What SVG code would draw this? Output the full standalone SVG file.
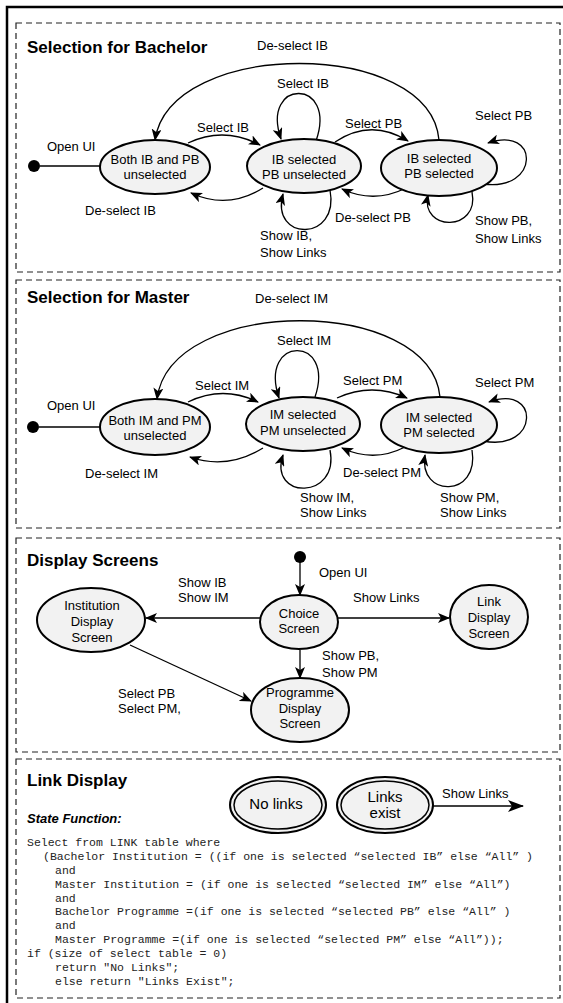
<svg xmlns="http://www.w3.org/2000/svg" width="563" height="1003" viewBox="0 0 563 1003">
<style>
.panel{fill:none;stroke:#222;stroke-width:1.2;stroke-dasharray:6 4}
.st{fill:#f2f2f2;stroke:#000;stroke-width:2}
.st2{fill:none;stroke:#000;stroke-width:1.5}
.t{font-family:"Liberation Sans",Arial,sans-serif;font-size:13px;fill:#000}
.c{text-anchor:middle}
.h{font-family:"Liberation Sans",Arial,sans-serif;font-size:17px;font-weight:bold;fill:#000}
.sf{font-family:"Liberation Sans",Arial,sans-serif;font-size:13px;font-weight:bold;font-style:italic;fill:#000}
.e{fill:none;stroke:#000;stroke-width:1.3;marker-end:url(#arr)}
.ln{fill:none;stroke:#000;stroke-width:1.3}
.code{font-family:"Liberation Mono","Courier New",monospace;font-size:11.5px;fill:#222}
</style>
<defs>
<marker id="arr" markerUnits="userSpaceOnUse" markerWidth="12" markerHeight="10" refX="11" refY="5" orient="auto">
<path d="M0,0 L12,5 L0,10 L3,5 z" fill="#000"/>
</marker>
<marker id="arrBig" markerUnits="userSpaceOnUse" markerWidth="16" markerHeight="12" refX="15" refY="6" orient="auto">
<path d="M0,0 L16,6 L0,12 L4,6 z" fill="#000"/>
</marker>
</defs>
<rect width="563" height="1003" fill="#fff"/>
<path d="M7,1003 L7,7 L563,7" fill="none" stroke="#000" stroke-width="2.5"/>

<g id="panels">
<rect class="panel" x="16" y="23" width="544" height="249"/>
<rect class="panel" x="16" y="280" width="544" height="248"/>
<rect class="panel" x="16" y="538" width="544" height="214"/>
<rect class="panel" x="16" y="759" width="544" height="239"/>
</g>

<g id="titles">
<text class="h" x="27" y="53">Selection for Bachelor</text>
<text class="h" x="27" y="303">Selection for Master</text>
<text class="h" x="27" y="566">Display Screens</text>
<text class="h" x="27" y="786">Link Display</text>
</g>

<g id="connectors">
<!-- Panel 1 -->
<line class="ln" x1="40" y1="166" x2="101" y2="166"/>
<path class="e" d="M188,143 Q224,126 260,145"/>
<path class="e" d="M263,188 Q228,210 191,193"/>
<path class="e" d="M439,140 C430,38 170,38 155,140"/>
<path class="e" d="M316,141 C338,78 260,78 281,139"/>
<path class="e" d="M335,142 Q371,118 408,141"/>
<path class="e" d="M406,188 Q374,204 342,189"/>
<path class="e" d="M330,190 C340,242 270,242 283,194"/>
<path class="e" d="M483,184 C540,192 540,125 488,143"/>
<path class="e" d="M472,192 C480,232 420,232 428,195"/>
<!-- Panel 2 -->
<line class="ln" x1="39" y1="427" x2="101" y2="427"/>
<path class="e" d="M188,402 Q223,385 258,402"/>
<path class="e" d="M263,448 Q227,470 190,457"/>
<path class="e" d="M440,397 C430,295 170,295 157,399"/>
<path class="e" d="M315,397 C336,335 258,335 279,398"/>
<path class="e" d="M337,398 Q372,382 407,398"/>
<path class="e" d="M405,447 Q374,463 342,448"/>
<path class="e" d="M330,450 C340,500 268,500 283,455"/>
<path class="e" d="M483,441 C540,452 540,383 489,402"/>
<path class="e" d="M472,450 C480,498 418,498 425,455"/>
<!-- Panel 3 -->
<path class="e" d="M300,562 L300,595"/>
<path class="e" d="M260,618 L146,618"/>
<path class="e" d="M338,618 L449,618"/>
<path class="e" d="M300,650 L300,678"/>
<path class="e" d="M130,645 L251,701"/>
<!-- Panel 4 -->
<path d="M433,806 L523,806" fill="none" stroke="#000" stroke-width="1.5" marker-end="url(#arrBig)"/>
</g>

<g id="p1-start"><circle cx="34" cy="166" r="6" fill="#000"/></g>
<g id="p1-A">
<ellipse class="st" cx="155" cy="167" rx="55" ry="27"/>
<text class="t c" x="155" y="164">Both IB and PB</text>
<text class="t c" x="155" y="179">unselected</text>
</g>
<g id="p1-B">
<ellipse class="st" cx="304" cy="166" rx="57" ry="27"/>
<text class="t c" x="304" y="164">IB selected</text>
<text class="t c" x="304" y="179">PB unselected</text>
</g>
<g id="p1-C">
<ellipse class="st" cx="439" cy="168" rx="58" ry="28"/>
<text class="t c" x="439" y="163">IB selected</text>
<text class="t c" x="439" y="178">PB selected</text>
</g>
<g id="p1-labels">
<text class="t" x="47" y="151">Open UI</text>
<text class="t" x="197" y="132">Select IB</text>
<text class="t" x="85" y="215">De-select IB</text>
<text class="t" x="257" y="50">De-select IB</text>
<text class="t" x="277" y="88">Select IB</text>
<text class="t" x="345" y="128">Select PB</text>
<text class="t" x="475" y="120">Select PB</text>
<text class="t" x="335" y="222">De-select PB</text>
<text class="t" x="260" y="240">Show IB,</text>
<text class="t" x="260" y="257">Show Links</text>
<text class="t" x="475" y="225">Show PB,</text>
<text class="t" x="475" y="243">Show Links</text>
</g>

<g id="p2-start"><circle cx="33" cy="427" r="6" fill="#000"/></g>
<g id="p2-A">
<ellipse class="st" cx="155" cy="427" rx="55" ry="28"/>
<text class="t c" x="155" y="425">Both IM and PM</text>
<text class="t c" x="155" y="440">unselected</text>
</g>
<g id="p2-B">
<ellipse class="st" cx="303" cy="424" rx="57" ry="27"/>
<text class="t c" x="303" y="419">IM selected</text>
<text class="t c" x="303" y="435">PM unselected</text>
</g>
<g id="p2-C">
<ellipse class="st" cx="439" cy="425" rx="58" ry="28"/>
<text class="t c" x="439" y="422">IM selected</text>
<text class="t c" x="439" y="437">PM selected</text>
</g>
<g id="p2-labels">
<text class="t" x="47" y="410">Open UI</text>
<text class="t" x="255" y="303">De-select IM</text>
<text class="t" x="277" y="345">Select IM</text>
<text class="t" x="195" y="390">Select IM</text>
<text class="t" x="85" y="478">De-select IM</text>
<text class="t" x="343" y="385">Select PM</text>
<text class="t" x="475" y="387">Select PM</text>
<text class="t" x="343" y="477">De-select PM</text>
<text class="t" x="300" y="502">Show IM,</text>
<text class="t" x="300" y="517">Show Links</text>
<text class="t" x="440" y="502">Show PM,</text>
<text class="t" x="440" y="517">Show Links</text>
</g>

<g id="p3-start"><circle cx="300" cy="557" r="6" fill="#000"/></g>
<g id="p3-institution">
<ellipse class="st" cx="91" cy="620" rx="54" ry="32"/>
<text class="t c" x="92" y="610">Institution</text>
<text class="t c" x="92" y="626">Display</text>
<text class="t c" x="92" y="642">Screen</text>
</g>
<g id="p3-choice">
<ellipse class="st" cx="299" cy="622" rx="39" ry="27"/>
<text class="t c" x="299" y="618">Choice</text>
<text class="t c" x="299" y="633">Screen</text>
</g>
<g id="p3-link">
<ellipse class="st" cx="489" cy="617" rx="39" ry="32"/>
<text class="t c" x="489" y="606">Link</text>
<text class="t c" x="489" y="622">Display</text>
<text class="t c" x="489" y="638">Screen</text>
</g>
<g id="p3-programme">
<ellipse class="st" cx="300" cy="710" rx="49" ry="32"/>
<text class="t c" x="300" y="697">Programme</text>
<text class="t c" x="300" y="713">Display</text>
<text class="t c" x="300" y="728">Screen</text>
</g>
<g id="p3-labels">
<text class="t" x="319" y="577">Open UI</text>
<text class="t" x="178" y="587">Show IB</text>
<text class="t" x="178" y="602">Show IM</text>
<text class="t" x="353" y="602">Show Links</text>
<text class="t" x="322" y="660">Show PB,</text>
<text class="t" x="322" y="677">Show PM</text>
<text class="t" x="118" y="698">Select PB</text>
<text class="t" x="118" y="713">Select PM,</text>
</g>

<g id="p4-nolinks">
<ellipse class="st" cx="278" cy="805" rx="48" ry="28"/>
<ellipse class="st2" cx="278" cy="805" rx="44" ry="24"/>
<text class="t c" x="276" y="809" style="font-size:15px">No links</text>
</g>
<g id="p4-linksexist">
<ellipse class="st" cx="385" cy="805" rx="48" ry="28"/>
<ellipse class="st2" cx="385" cy="805" rx="44" ry="24"/>
<text class="t c" x="385" y="802" style="font-size:15px">Links</text>
<text class="t c" x="385" y="818" style="font-size:15px">exist</text>
</g>
<g id="p4-labels">
<text class="t" x="442" y="798">Show Links</text>
<text class="sf" x="27" y="823">State Function:</text>
</g>
<g id="p4-code">
<text class="code" x="27" y="846">Select from LINK table where</text>
<text class="code" x="43" y="860">(Bachelor Institution = ((if one is selected “selected IB” else “All” )</text>
<text class="code" x="55" y="874">and</text>
<text class="code" x="55" y="888">Master Institution = (if one is selected “selected IM” else “All”)</text>
<text class="code" x="55" y="902">and</text>
<text class="code" x="55" y="915">Bachelor Programme =(if one is selected “selected PB” else “All” )</text>
<text class="code" x="55" y="929">and</text>
<text class="code" x="55" y="943">Master Programme =(if one is selected “selected PM” else “All”));</text>
<text class="code" x="27" y="957">if (size of select table = 0)</text>
<text class="code" x="55" y="971">return "No Links";</text>
<text class="code" x="55" y="985">else return "Links Exist";</text>
</g>
</svg>
